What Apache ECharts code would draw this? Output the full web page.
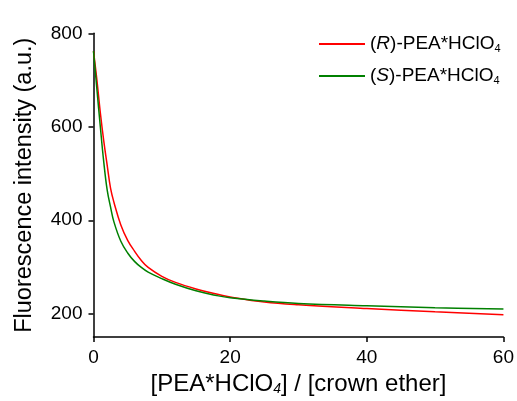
<!DOCTYPE html>
<html>
<head>
<meta charset="utf-8">
<script src="https://cdn.jsdelivr.net/npm/echarts@6/dist/echarts.min.js"></script>
<style>
  html, body { margin: 0; padding: 0; background: #fff; }
  #chart { width: 517px; height: 401px; }
</style>
</head>
<body>
<div id="chart"></div>
<script>
// titration points
const ratio = [0, 0.5, 1, 1.5, 2, 2.5, 3, 4, 5, 6, 7, 8, 10, 12, 15, 18, 20, 25, 30, 40, 50, 60]
const intensityR = [762, 700, 630, 570, 518, 468, 438, 390, 357, 334, 314, 299, 280, 267, 253, 242, 236, 225, 219, 211, 204, 198]
const intensityS = [762, 680, 600, 525, 465, 428, 396, 355, 330, 312, 299, 289, 275, 263, 249, 239, 234, 227, 222, 217, 213, 210]
const xTicks = [0, 20, 40, 60]
const yTicks = [200, 400, 600, 800]

const font = 'Liberation Sans, Arial, sans-serif'

const pairs = (ys) => ratio.map((x, i) => [x, ys[i]])

const legendNames = {
  R: '({it|R})-PEA*HClO{sub|4}',
  S: '({it|S})-PEA*HClO{sub|4}'
}

const chart = echarts.init(document.getElementById('chart'))

const option = {
  backgroundColor: '#fff',
  animation: false,
  grid: {
    left: 93.5,
    right: 10,
    top: 33.3,
    bottom: 63.3
  },
  legend: {
    orient: 'vertical',
    left: 314,
    top: 29,
    itemWidth: 46,
    itemHeight: 2,
    itemGap: 12,
    icon: 'rect',
    data: ['R', 'S'],
    formatter: (name) => legendNames[name],
    textStyle: {
      fontFamily: font,
      fontSize: 19,
      color: '#000',
      lineHeight: 20,
      rich: {
        it: { fontFamily: font, fontSize: 19, fontStyle: 'italic', color: '#000', lineHeight: 20 },
        sub: { fontFamily: font, fontSize: 11, color: '#000', lineHeight: 11, verticalAlign: 'bottom' }
      }
    }
  },
  xAxis: {
    type: 'value',
    min: 0,
    max: 60,
    interval: 20,
    name: '[PEA*HClO{sub|4}] / [crown ether]',
    nameLocation: 'middle',
    nameGap: 33,
    nameTextStyle: {
      fontFamily: font,
      fontSize: 24,
      color: '#000',
      lineHeight: 24,
      rich: {
        sub: { fontFamily: font, fontSize: 14, fontStyle: 'italic', color: '#000', lineHeight: 14, verticalAlign: 'bottom' }
      }
    },
    axisLine: { show: true, lineStyle: { color: '#000', width: 1.5 } },
    axisTick: { show: true, inside: false, length: 5, lineStyle: { color: '#000', width: 1.5 }, customValues: xTicks },
    axisLabel: { fontFamily: font, fontSize: 19, color: '#000', margin: 11, customValues: xTicks },
    splitLine: { show: false }
  },
  yAxis: {
    type: 'value',
    min: 150,
    max: 800,
    name: 'Fluorescence intensity (a.u.)',
    nameLocation: 'middle',
    nameGap: 57,
    nameTextStyle: { fontFamily: font, fontSize: 23.5, color: '#000' },
    axisLine: { show: true, lineStyle: { color: '#000', width: 1.5 } },
    axisTick: { show: true, inside: false, length: 5, lineStyle: { color: '#000', width: 1.5 }, customValues: yTicks },
    axisLabel: { fontFamily: font, fontSize: 19, color: '#000', margin: 11, customValues: yTicks },
    splitLine: { show: false }
  },
  series: [
    {
      name: 'R',
      type: 'line',
      data: pairs(intensityR),
      smooth: 0.4,
      symbol: 'none',
      itemStyle: { color: '#ff0000' },
      lineStyle: { color: '#ff0000', width: 1.5 }
    },
    {
      name: 'S',
      type: 'line',
      data: pairs(intensityS),
      smooth: 0.4,
      symbol: 'none',
      itemStyle: { color: '#008000' },
      lineStyle: { color: '#008000', width: 1.5 }
    }
  ]
}

chart.setOption(option)
</script>
</body>
</html>
